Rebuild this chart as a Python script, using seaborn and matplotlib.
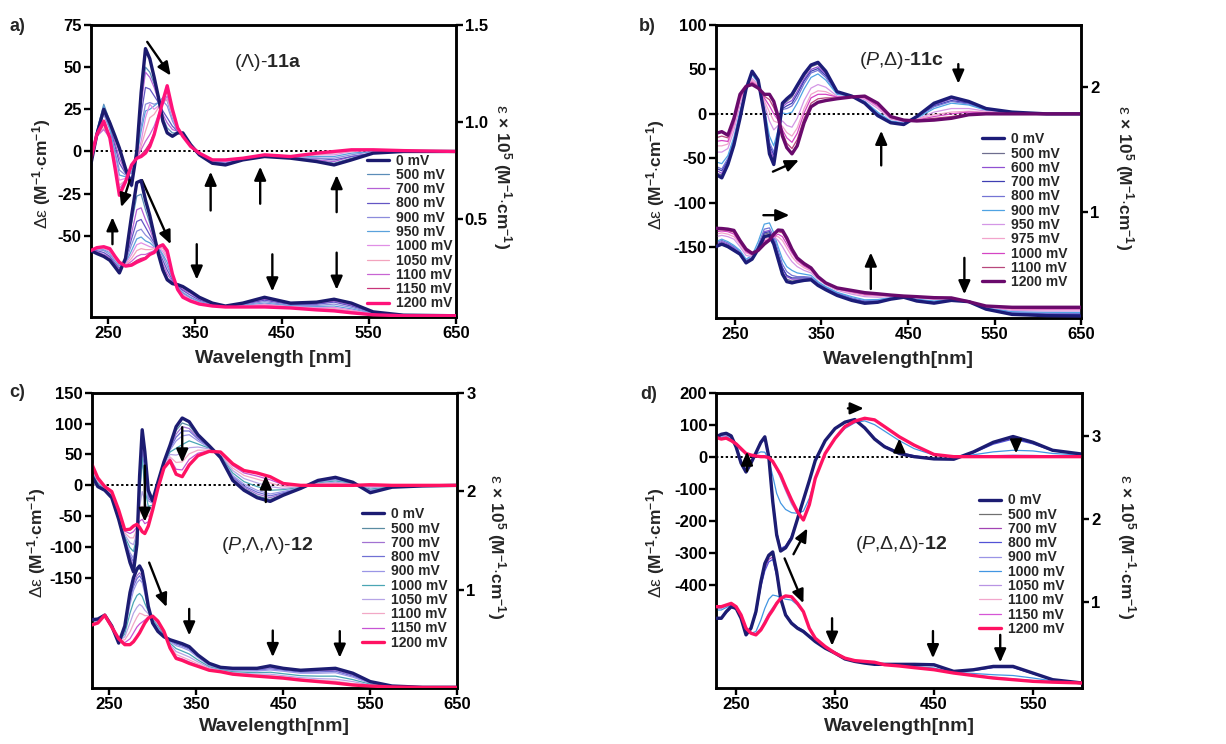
import matplotlib
matplotlib.use("Agg")
import matplotlib.pyplot as plt
import seaborn as sns

sns.set_style("ticks")
plt.rcParams["font.family"] = ["Liberation Sans", "DejaVu Sans"]
plt.rcParams["mathtext.fontset"] = "custom"
plt.rcParams["mathtext.rm"] = "Liberation Sans"
plt.rcParams["mathtext.it"] = "Liberation Sans:italic"
plt.rcParams["mathtext.bf"] = "Liberation Sans:bold"
plt.rcParams["axes.linewidth"] = 1.8
plt.rcParams["axes.edgecolor"] = "black"
plt.rcParams["xtick.color"] = "black"
plt.rcParams["ytick.color"] = "black"

# ---------------- panel a : (Lambda)-11a ----------------
WL_A = [230, 237, 245, 252, 258, 263, 270, 277, 283, 288, 293, 298, 303, 308, 313, 318,
        324, 330, 336, 345, 355, 370, 385, 405, 430, 460, 490, 510, 530, 555, 590, 650]
POT_A = ["0 mV", "500 mV", "700 mV", "800 mV", "900 mV", "950 mV", "1000 mV",
         "1050 mV", "1100 mV", "1150 mV", "1200 mV"]
COL_A = ["#1b1a6e", "#5b8db8", "#b561d6", "#6356c4", "#8c8cdc", "#5aa2dc",
         "#e08fe6", "#f3a3bd", "#c865d3", "#c8357a", "#ff127a"]
CD_A = [
    [-8, 10, 25, 17, 9, 2, -10, -20, 0, 35, 61, 55, 44, 32, 18, 11, 9, 11, 11, 4, -2, -7, -8, -5, -3, -4, -6, -8, -5, -1, 0, 0],
    [-8, 12, 28, 18, 8, 0, -12, -21, -1, 30, 50, 47, 40, 31, 20, 14, 11, 11, 11, 4, -2, -7, -7, -5, -3, -4, -5, -7, -4, -1, 0, 0],
    [-7, 11, 24, 15, 5, -4, -12, -18, -2, 28, 47, 44, 38, 30, 22, 17, 13, 12, 10, 4, -2, -6, -7, -5, -3, -4, -5, -6, -3, -1, 0, 0],
    [-7, 11, 23, 14, 3, -7, -13, -16, -3, 22, 38, 37, 33, 29, 24, 20, 15, 12, 10, 4, -2, -6, -7, -5, -3, -4, -4, -5, -3, -1, 0, 0],
    [-6, 11, 22, 13, 0, -11, -14, -13, -3, 15, 28, 29, 28, 29, 30, 27, 18, 12, 10, 4, -2, -6, -6, -5, -3, -4, -4, -4, -2, 0, 0, 0],
    [-6, 12, 27, 14, -2, -14, -15, -12, -3, 12, 24, 25, 27, 29, 32, 30, 20, 13, 10, 4, -2, -6, -6, -4, -3, -3, -3, -3, -1, 0, 0, 0],
    [-6, 10, 16, 10, -4, -17, -16, -10, -4, 6, 20, 28, 25, 27, 30, 31, 21, 13, 9, 3, -1, -5, -6, -4, -2, -3, -2, -2, 0, 1, 0, 0],
    [-5, 9, 14, 9, -6, -20, -17, -9, -4, 3, 12, 20, 22, 26, 29, 31, 22, 13, 9, 3, -1, -5, -5, -4, -2, -3, -2, -1, 0, 1, 0, 0],
    [-5, 9, 13, 8, -7, -22, -17, -9, -4, 1, 6, 10, 15, 22, 28, 33, 23, 14, 9, 3, -1, -5, -5, -4, -2, -3, -1, 0, 1, 1, 0, 0],
    [-5, 9, 16, 8, -9, -24, -18, -8, -4, -2, 1, 5, 11, 21, 29, 36, 24, 14, 9, 3, -1, -5, -5, -4, -2, -3, -1, 0, 1, 1, 0, 0],
    [-5, 10, 18, 8, -10, -26, -18, -8, -4, -3, -1, 3, 10, 20, 30, 39, 25, 14, 9, 3, -1, -5, -5, -4, -2, -3, -1, 0, 1, 1, 0.5, 0],
]
UV_A = [
    [0.34, 0.325, 0.31, 0.29, 0.255, 0.225, 0.30, 0.52, 0.69, 0.70, 0.60, 0.52, 0.42, 0.32, 0.24, 0.19, 0.17, 0.165, 0.155, 0.13, 0.10, 0.07, 0.055, 0.07, 0.10, 0.07, 0.075, 0.09, 0.07, 0.025, 0.008, 0.005],
    [0.34, 0.33, 0.315, 0.295, 0.26, 0.235, 0.30, 0.48, 0.62, 0.63, 0.55, 0.48, 0.40, 0.32, 0.25, 0.20, 0.17, 0.16, 0.15, 0.125, 0.095, 0.068, 0.055, 0.068, 0.095, 0.068, 0.072, 0.085, 0.065, 0.024, 0.008, 0.005],
    [0.34, 0.335, 0.32, 0.305, 0.27, 0.24, 0.29, 0.43, 0.55, 0.56, 0.50, 0.45, 0.39, 0.33, 0.27, 0.22, 0.18, 0.16, 0.14, 0.12, 0.09, 0.065, 0.055, 0.065, 0.09, 0.065, 0.068, 0.08, 0.06, 0.022, 0.008, 0.005],
    [0.34, 0.34, 0.33, 0.31, 0.275, 0.25, 0.285, 0.40, 0.49, 0.50, 0.46, 0.42, 0.38, 0.34, 0.29, 0.24, 0.19, 0.155, 0.135, 0.11, 0.085, 0.063, 0.053, 0.062, 0.085, 0.062, 0.064, 0.075, 0.055, 0.02, 0.007, 0.005],
    [0.34, 0.345, 0.34, 0.32, 0.285, 0.26, 0.28, 0.37, 0.44, 0.45, 0.42, 0.40, 0.37, 0.35, 0.31, 0.26, 0.20, 0.15, 0.125, 0.10, 0.08, 0.06, 0.052, 0.06, 0.078, 0.058, 0.058, 0.065, 0.048, 0.018, 0.007, 0.005],
    [0.34, 0.35, 0.345, 0.33, 0.29, 0.265, 0.275, 0.34, 0.40, 0.41, 0.39, 0.38, 0.36, 0.355, 0.32, 0.28, 0.205, 0.145, 0.12, 0.095, 0.075, 0.058, 0.051, 0.057, 0.07, 0.055, 0.052, 0.055, 0.04, 0.016, 0.006, 0.005],
    [0.34, 0.35, 0.35, 0.335, 0.295, 0.27, 0.27, 0.32, 0.37, 0.38, 0.37, 0.36, 0.355, 0.36, 0.335, 0.30, 0.21, 0.14, 0.115, 0.09, 0.072, 0.057, 0.05, 0.055, 0.065, 0.052, 0.047, 0.048, 0.035, 0.014, 0.006, 0.005],
    [0.34, 0.352, 0.355, 0.34, 0.30, 0.272, 0.265, 0.30, 0.34, 0.35, 0.345, 0.345, 0.35, 0.36, 0.35, 0.31, 0.215, 0.14, 0.11, 0.087, 0.07, 0.056, 0.05, 0.053, 0.06, 0.05, 0.043, 0.042, 0.03, 0.012, 0.005, 0.005],
    [0.34, 0.353, 0.357, 0.345, 0.305, 0.275, 0.262, 0.285, 0.31, 0.32, 0.32, 0.33, 0.34, 0.36, 0.36, 0.325, 0.218, 0.14, 0.105, 0.084, 0.067, 0.056, 0.05, 0.051, 0.055, 0.048, 0.039, 0.036, 0.025, 0.011, 0.005, 0.005],
    [0.34, 0.354, 0.359, 0.348, 0.308, 0.278, 0.26, 0.272, 0.29, 0.30, 0.305, 0.32, 0.335, 0.36, 0.365, 0.335, 0.22, 0.14, 0.102, 0.082, 0.066, 0.055, 0.05, 0.05, 0.052, 0.046, 0.037, 0.032, 0.022, 0.01, 0.005, 0.005],
    [0.34, 0.355, 0.36, 0.35, 0.31, 0.28, 0.26, 0.265, 0.28, 0.29, 0.30, 0.32, 0.33, 0.36, 0.37, 0.34, 0.22, 0.14, 0.10, 0.08, 0.065, 0.055, 0.05, 0.05, 0.05, 0.045, 0.035, 0.03, 0.02, 0.01, 0.005, 0.005],
]
ARROWS_A = [(295, 65, 322, 45), (275, -17, 265, -33), (255, -55, 255, -39), (289, -17, 322, -55),
            (352, -55, 352, -76), (368, -35, 368, -12), (425, -31, 425, -9), (439, -61, 439, -83),
            (513, -36, 513, -14), (513, -60, 513, -82)]

# ---------------- panel b : (P,Delta)-11c ----------------
WL_B = [228, 235, 242, 249, 256, 263, 270, 277, 284, 290, 295, 300, 305, 310, 316, 322, 330,
        338, 346, 355, 368, 385, 400, 415, 430, 445, 460, 480, 500, 520, 540, 570, 610, 650]
POT_B = ["0 mV", "500 mV", "600 mV", "700 mV", "800 mV", "900 mV", "950 mV", "975 mV",
         "1000 mV", "1100 mV", "1200 mV"]
COL_B = ["#1c1c78", "#6e6e8e", "#9050d2", "#3e3eb2", "#7474d4", "#4fa3e3",
         "#d497e6", "#f2a4cc", "#d545c4", "#b8487c", "#6a0a6c"]
CD_B = [
    [-68, -72, -57, -35, -5, 28, 48, 38, 0, -45, -57, -25, 12, 17, 22, 32, 45, 55, 58, 48, 25, 20, 12, -2, -10, -12, -3, 12, 19, 14, 6, 2, 0, 0],
    [-66, -69, -55, -33, -4, 28, 47, 38, 1, -42, -53, -24, 10, 14, 19, 29, 42, 53, 56, 46, 25, 20, 12, -1, -10, -12, -3, 11, 18, 13, 6, 2, 0, 0],
    [-63, -67, -54, -32, -2, 28, 46, 37, 2, -38, -50, -23, 8, 12, 15, 25, 39, 50, 53, 45, 24, 20, 13, -1, -9, -11, -3, 10, 17, 12, 5, 2, 0, 0],
    [-61, -64, -52, -30, -1, 28, 46, 37, 3, -35, -46, -22, 6, 9, 12, 22, 37, 48, 51, 43, 24, 20, 13, 0, -9, -11, -4, 9, 15, 12, 5, 2, 0, 0],
    [-59, -62, -50, -29, 0, 29, 45, 36, 4, -32, -43, -21, 5, 6, 9, 18, 34, 46, 49, 41, 23, 20, 14, 1, -9, -11, -4, 8, 14, 11, 5, 2, 0, 0],
    [-54, -56, -47, -26, 3, 29, 44, 35, 7, -25, -36, -18, 1, 0, 2, 12, 28, 41, 45, 38, 22, 20, 14, 2, -8, -10, -5, 6, 12, 10, 4, 1, 0, 0],
    [-43, -43, -39, -19, 10, 30, 40, 33, 12, -8, -18, -13, -8, -13, -15, -5, 15, 29, 33, 30, 20, 19, 16, 6, -6, -9, -6, 2, 6, 6, 3, 1, 0, 0],
    [-36, -36, -34, -14, 14, 30, 38, 32, 15, 2, -8, -10, -14, -21, -25, -16, 6, 22, 26, 25, 19, 19, 18, 8, -5, -8, -6, -1, 2, 3, 2, 1, 0, 0],
    [-31, -30, -31, -11, 17, 31, 36, 31, 18, 9, 0, -7, -18, -27, -32, -22, 1, 18, 22, 22, 19, 19, 18, 9, -4, -8, -7, -3, 0, 2, 1, 0, 0, 0],
    [-27, -25, -27, -8, 19, 31, 35, 30, 20, 16, 7, -5, -21, -33, -39, -29, -5, 12, 17, 18, 18, 19, 19, 11, -3, -7, -7, -5, -3, 0, 1, 0, 0, 0],
    [-22, -20, -24, -5, 22, 31, 33, 29, 22, 22, 14, -3, -25, -38, -45, -36, -10, 8, 13, 15, 17, 19, 20, 12, -3, -7, -8, -7, -5, -1, 0, 0, 0, 0],
]
UV_B = [
    [0.72, 0.74, 0.72, 0.69, 0.66, 0.59, 0.62, 0.70, 0.80, 0.81, 0.74, 0.62, 0.50, 0.44, 0.43, 0.44, 0.45, 0.455, 0.41, 0.375, 0.33, 0.29, 0.267, 0.275, 0.30, 0.315, 0.285, 0.268, 0.29, 0.28, 0.22, 0.178, 0.168, 0.165],
    [0.73, 0.75, 0.73, 0.70, 0.665, 0.595, 0.625, 0.71, 0.82, 0.83, 0.76, 0.64, 0.52, 0.46, 0.445, 0.45, 0.455, 0.46, 0.415, 0.38, 0.335, 0.295, 0.272, 0.278, 0.30, 0.315, 0.287, 0.27, 0.29, 0.28, 0.222, 0.182, 0.172, 0.17],
    [0.74, 0.76, 0.74, 0.71, 0.67, 0.60, 0.63, 0.72, 0.84, 0.85, 0.78, 0.66, 0.55, 0.48, 0.46, 0.46, 0.46, 0.465, 0.42, 0.385, 0.34, 0.30, 0.277, 0.282, 0.303, 0.316, 0.29, 0.273, 0.292, 0.28, 0.225, 0.186, 0.178, 0.175],
    [0.73, 0.745, 0.73, 0.70, 0.665, 0.60, 0.625, 0.715, 0.83, 0.84, 0.77, 0.66, 0.55, 0.49, 0.47, 0.47, 0.47, 0.47, 0.425, 0.39, 0.345, 0.305, 0.28, 0.285, 0.305, 0.318, 0.292, 0.276, 0.294, 0.28, 0.227, 0.19, 0.182, 0.18],
    [0.75, 0.77, 0.75, 0.72, 0.68, 0.61, 0.635, 0.73, 0.86, 0.87, 0.80, 0.69, 0.58, 0.52, 0.49, 0.48, 0.48, 0.475, 0.43, 0.395, 0.35, 0.31, 0.287, 0.29, 0.308, 0.32, 0.295, 0.28, 0.297, 0.28, 0.23, 0.195, 0.188, 0.186],
    [0.76, 0.78, 0.76, 0.73, 0.69, 0.62, 0.65, 0.76, 0.90, 0.91, 0.83, 0.72, 0.62, 0.56, 0.53, 0.51, 0.50, 0.49, 0.44, 0.40, 0.355, 0.32, 0.295, 0.297, 0.312, 0.322, 0.30, 0.285, 0.30, 0.28, 0.233, 0.20, 0.195, 0.193],
    [0.80, 0.81, 0.80, 0.78, 0.72, 0.65, 0.64, 0.71, 0.80, 0.81, 0.80, 0.77, 0.72, 0.66, 0.60, 0.56, 0.53, 0.51, 0.46, 0.415, 0.37, 0.34, 0.32, 0.315, 0.32, 0.322, 0.31, 0.298, 0.305, 0.28, 0.238, 0.21, 0.205, 0.205],
    [0.82, 0.83, 0.82, 0.80, 0.74, 0.67, 0.65, 0.70, 0.78, 0.79, 0.80, 0.80, 0.77, 0.71, 0.64, 0.59, 0.55, 0.525, 0.465, 0.42, 0.378, 0.35, 0.33, 0.325, 0.325, 0.323, 0.313, 0.303, 0.307, 0.28, 0.24, 0.218, 0.215, 0.215],
    [0.84, 0.845, 0.84, 0.82, 0.75, 0.68, 0.655, 0.695, 0.765, 0.78, 0.80, 0.82, 0.80, 0.74, 0.67, 0.61, 0.565, 0.535, 0.47, 0.425, 0.383, 0.358, 0.338, 0.332, 0.328, 0.324, 0.316, 0.307, 0.308, 0.28, 0.242, 0.225, 0.222, 0.222],
    [0.855, 0.855, 0.85, 0.835, 0.76, 0.69, 0.66, 0.69, 0.75, 0.775, 0.81, 0.84, 0.83, 0.77, 0.69, 0.62, 0.575, 0.545, 0.475, 0.428, 0.387, 0.365, 0.345, 0.338, 0.33, 0.325, 0.318, 0.31, 0.309, 0.28, 0.244, 0.23, 0.228, 0.228],
    [0.867, 0.865, 0.86, 0.85, 0.77, 0.70, 0.667, 0.69, 0.74, 0.773, 0.82, 0.853, 0.85, 0.79, 0.70, 0.63, 0.585, 0.55, 0.48, 0.43, 0.39, 0.37, 0.352, 0.343, 0.333, 0.325, 0.32, 0.312, 0.31, 0.28, 0.245, 0.235, 0.235, 0.235],
]
ARROWS_B = [(294, -65, 324, -52), (283, -114, 313, -114), (508, 56, 508, 34),
            (419, -58, 419, -19), (407, -197, 407, -156), (515, -162, 515, -203)]

# ---------------- panel c : (P,Lambda,Lambda)-12 ----------------
WL_C = [230, 237, 245, 253, 261, 268, 274, 278, 282, 285, 288, 291, 295, 300, 306, 313, 320, 327,
        334, 342, 352, 365, 378, 392, 405, 420, 435, 450, 470, 490, 510, 530, 550, 575, 610, 650]
POT_C = ["0 mV", "500 mV", "700 mV", "800 mV", "900 mV", "1000 mV", "1050 mV",
         "1100 mV", "1150 mV", "1200 mV"]
COL_C = ["#1c1c72", "#5a8ca2", "#a272d2", "#7070d4", "#9a96e6", "#4aa6b4",
         "#b6a4e6", "#f2a8c6", "#c754d4", "#ff1262"]
CD_C = [
    [16, -2, -8, -20, -55, -92, -125, -140, -95, 15, 90, 55, -8, -25, 5, 38, 65, 95, 109, 103, 82, 64, 45, 8, -8, -20, -26, -16, -5, 8, 13, 5, -12, -3, -1, 0],
    [18, -1, -8, -19, -54, -90, -121, -134, -92, 8, 77, 44, -12, -26, 4, 37, 63, 89, 101, 97, 79, 63, 46, 10, -5, -17, -23, -14, -5, 7, 12, 5, -11, -3, -1, 0],
    [19, 0, -7, -18, -53, -89, -117, -129, -90, 3, 65, 35, -17, -27, 4, 36, 61, 83, 95, 92, 77, 63, 46, 12, -3, -14, -20, -13, -4, 7, 11, 4, -10, -3, -1, 0],
    [20, 1, -7, -18, -52, -88, -113, -124, -88, -3, 54, 26, -21, -28, 3, 36, 59, 78, 88, 88, 75, 62, 47, 14, -1, -11, -17, -12, -4, 6, 10, 4, -9, -2, -1, 0],
    [22, 2, -6, -17, -50, -86, -109, -118, -85, -10, 40, 15, -25, -29, 2, 35, 57, 72, 80, 82, 72, 61, 48, 16, 2, -8, -14, -10, -4, 6, 9, 3, -8, -2, -1, 0],
    [25, 4, -5, -16, -48, -83, -101, -107, -81, -22, 45, -5, -34, -32, 0, 33, 54, 60, 66, 72, 67, 60, 49, 20, 6, -2, -8, -7, -3, 4, 7, 3, -6, -2, -1, 0],
    [27, 6, -4, -14, -46, -80, -93, -96, -76, -35, -10, -25, -43, -34, -1, 32, 50, 49, 52, 61, 62, 59, 50, 24, 11, 4, -2, -5, -2, 3, 5, 2, -4, -1, 0, 0],
    [30, 8, -3, -13, -44, -77, -85, -85, -71, -47, -34, -45, -51, -36, -2, 30, 46, 37, 38, 51, 57, 57, 52, 28, 16, 10, 4, -2, -1, 2, 3, 1, -2, -1, 0, 0],
    [33, 10, -2, -11, -42, -74, -78, -75, -67, -58, -55, -62, -59, -38, -4, 29, 43, 26, 25, 42, 52, 56, 53, 32, 20, 15, 9, 1, 0, 1, 1, 0, -1, 0, 0, 0],
    [35, 12, -2, -10, -40, -72, -71, -66, -63, -68, -75, -78, -66, -40, -5, 28, 40, 18, 14, 33, 48, 55, 54, 35, 24, 20, 14, 3, 0, 0, 0, 0, 1, 0, 0, 0],
]
UV_C = [
    [0.694, 0.70, 0.74, 0.63, 0.456, 0.63, 0.97, 1.12, 1.21, 1.24, 1.19, 1.05, 0.83, 0.66, 0.575, 0.52, 0.49, 0.47, 0.45, 0.42, 0.335, 0.25, 0.21, 0.20, 0.20, 0.20, 0.225, 0.20, 0.18, 0.19, 0.20, 0.15, 0.065, 0.02, 0.007, 0.007],
    [0.69, 0.70, 0.74, 0.63, 0.46, 0.62, 0.95, 1.10, 1.19, 1.22, 1.17, 1.04, 0.83, 0.67, 0.58, 0.52, 0.485, 0.465, 0.445, 0.415, 0.33, 0.245, 0.205, 0.195, 0.195, 0.195, 0.215, 0.195, 0.175, 0.18, 0.19, 0.14, 0.062, 0.02, 0.007, 0.007],
    [0.685, 0.695, 0.74, 0.63, 0.46, 0.61, 0.92, 1.06, 1.14, 1.17, 1.13, 1.01, 0.82, 0.675, 0.59, 0.52, 0.48, 0.455, 0.435, 0.405, 0.325, 0.24, 0.20, 0.19, 0.19, 0.188, 0.205, 0.188, 0.168, 0.172, 0.18, 0.13, 0.058, 0.018, 0.007, 0.007],
    [0.68, 0.69, 0.74, 0.63, 0.462, 0.60, 0.89, 1.03, 1.11, 1.14, 1.10, 0.99, 0.815, 0.68, 0.60, 0.53, 0.475, 0.445, 0.425, 0.395, 0.32, 0.235, 0.197, 0.185, 0.183, 0.18, 0.195, 0.18, 0.16, 0.163, 0.17, 0.12, 0.053, 0.017, 0.007, 0.007],
    [0.675, 0.685, 0.74, 0.628, 0.465, 0.58, 0.85, 0.99, 1.07, 1.10, 1.07, 0.96, 0.80, 0.685, 0.61, 0.535, 0.47, 0.43, 0.41, 0.38, 0.31, 0.228, 0.192, 0.178, 0.175, 0.172, 0.183, 0.17, 0.15, 0.15, 0.155, 0.11, 0.048, 0.015, 0.006, 0.006],
    [0.665, 0.68, 0.74, 0.627, 0.47, 0.55, 0.76, 0.87, 0.94, 0.96, 0.93, 0.86, 0.78, 0.70, 0.63, 0.545, 0.455, 0.40, 0.375, 0.345, 0.285, 0.215, 0.185, 0.165, 0.16, 0.155, 0.16, 0.145, 0.125, 0.12, 0.12, 0.085, 0.038, 0.013, 0.006, 0.006],
    [0.66, 0.675, 0.74, 0.625, 0.475, 0.52, 0.66, 0.76, 0.82, 0.85, 0.83, 0.79, 0.755, 0.71, 0.65, 0.555, 0.44, 0.37, 0.345, 0.315, 0.265, 0.205, 0.18, 0.155, 0.148, 0.14, 0.14, 0.125, 0.105, 0.095, 0.09, 0.065, 0.03, 0.012, 0.005, 0.005],
    [0.655, 0.67, 0.74, 0.624, 0.48, 0.49, 0.57, 0.65, 0.72, 0.76, 0.75, 0.735, 0.735, 0.72, 0.665, 0.565, 0.425, 0.34, 0.315, 0.285, 0.245, 0.195, 0.173, 0.148, 0.14, 0.13, 0.125, 0.112, 0.092, 0.08, 0.07, 0.045, 0.025, 0.011, 0.005, 0.005],
    [0.645, 0.665, 0.74, 0.622, 0.49, 0.46, 0.50, 0.56, 0.62, 0.65, 0.67, 0.69, 0.72, 0.725, 0.675, 0.57, 0.41, 0.315, 0.295, 0.265, 0.23, 0.185, 0.168, 0.143, 0.133, 0.123, 0.115, 0.105, 0.085, 0.07, 0.058, 0.036, 0.022, 0.01, 0.005, 0.005],
    [0.64, 0.66, 0.74, 0.62, 0.50, 0.44, 0.44, 0.47, 0.52, 0.56, 0.61, 0.66, 0.71, 0.73, 0.68, 0.575, 0.405, 0.30, 0.28, 0.25, 0.22, 0.18, 0.165, 0.14, 0.13, 0.12, 0.11, 0.10, 0.08, 0.065, 0.05, 0.03, 0.02, 0.01, 0.005, 0.005],
]
ARROWS_C = [(291, 32, 291, -59), (334, 94, 334, 37), (430, -27, 430, 16), (296, -125, 316, -197),
            (342, -200, 342, -243), (438, -235, 438, -278), (515, -236, 515, -279)]

# ---------------- panel d : (P,Delta,Delta)-12 ----------------
WL_D = [230, 235, 240, 245, 250, 255, 260, 265, 270, 275, 279, 283, 287, 291, 295, 300, 306, 312, 318,
        324, 330, 340, 350, 360, 370, 380, 390, 400, 415, 430, 450, 470, 490, 510, 530, 550, 570, 600]
POT_D = ["0 mV", "500 mV", "700 mV", "800 mV", "900 mV", "1000 mV", "1050 mV",
         "1100 mV", "1150 mV", "1200 mV"]
COL_D = ["#1c1c72", "#707070", "#a244b4", "#5252d6", "#9a94e6", "#4296e2",
         "#b894e4", "#f2a6cc", "#d656d6", "#ff1262"]
CD_D = [
    [62, 70, 73, 65, 30, -20, -48, -20, 12, 45, 62, 0, -140, -245, -295, -285, -255, -195, -135, -75, -12, 50, 88, 108, 116, 90, 55, 31, 10, 0, -7, -8, 15, 45, 63, 45, 20, 8],
    [62, 69, 72, 64, 30, -18, -46, -19, 12, 44, 60, -1, -138, -242, -292, -283, -253, -194, -134, -75, -12, 50, 88, 107, 115, 90, 56, 32, 11, 1, -7, -7, 14, 43, 60, 43, 19, 8],
    [61, 68, 71, 63, 31, -16, -44, -18, 12, 43, 58, -2, -135, -238, -290, -281, -251, -193, -134, -74, -12, 50, 87, 107, 115, 91, 57, 33, 12, 2, -7, -7, 13, 41, 58, 42, 19, 8],
    [61, 67, 70, 62, 32, -14, -42, -17, 12, 42, 56, -3, -132, -234, -287, -279, -249, -192, -133, -74, -12, 50, 87, 106, 114, 91, 58, 34, 13, 3, -6, -6, 12, 39, 55, 40, 18, 8],
    [66, 62, 66, 58, 42, 25, 12, 6, 3, 2, 1, -3, -18, -40, -68, -106, -148, -178, -195, -152, -65, 8, 55, 92, 110, 119, 114, 93, 62, 36, 7, 0, 1, 3, 5, 4, 2, 1],
    [70, 58, 62, 55, 38, 20, 8, 5, 8, 15, 14, -10, -60, -115, -145, -165, -175, -177, -170, -130, -70, 10, 55, 88, 106, 112, 100, 80, 50, 25, 5, 0, 6, 15, 20, 18, 10, 5],
    [60, 56, 59, 52, 41, 26, 11, 5, 2, 1, 0, -3, -16, -37, -58, -96, -137, -174, -198, -152, -67, 9, 56, 93, 110, 119, 115, 94, 62, 36, 7, 0, 0, 1, 2, 1, 0, 0],
    [58, 56, 60, 51, 40, 25, 10, 5, 2, 0, 0, -3, -15, -36, -58, -95, -136, -173, -199, -151, -68, 10, 57, 94, 111, 120, 115, 94, 62, 36, 7, 0, 0, 0, 1, 0, 0, 0],
    [62, 55, 57, 50, 40, 25, 10, 5, 2, 0, 0, -3, -15, -36, -57, -94, -135, -172, -199, -150, -68, 10, 57, 94, 111, 120, 115, 94, 62, 36, 7, 0, 0, 0, 0, 0, 0, 0],
    [60, 55, 58, 50, 40, 25, 10, 5, 2, 0, 0, -3, -15, -36, -57, -94, -135, -172, -198, -150, -68, 10, 57, 94, 111, 120, 115, 94, 62, 36, 7, 0, 0, 0, 0, 0, 0, 0],
]
UV_D = [
    [0.80, 0.80, 0.88, 0.94, 0.92, 0.80, 0.60, 0.68, 0.88, 1.24, 1.46, 1.56, 1.60, 1.36, 1.04, 0.84, 0.74, 0.68, 0.64, 0.58, 0.52, 0.44, 0.38, 0.31, 0.28, 0.26, 0.245, 0.245, 0.245, 0.245, 0.24, 0.16, 0.18, 0.22, 0.22, 0.14, 0.06, 0.02],
    [0.80, 0.80, 0.875, 0.935, 0.915, 0.80, 0.61, 0.685, 0.87, 1.22, 1.43, 1.54, 1.57, 1.35, 1.04, 0.845, 0.745, 0.685, 0.645, 0.585, 0.52, 0.44, 0.38, 0.31, 0.28, 0.26, 0.245, 0.245, 0.245, 0.245, 0.24, 0.16, 0.18, 0.215, 0.215, 0.138, 0.06, 0.02],
    [0.80, 0.805, 0.87, 0.93, 0.91, 0.80, 0.62, 0.69, 0.86, 1.20, 1.40, 1.51, 1.54, 1.33, 1.04, 0.85, 0.75, 0.69, 0.65, 0.59, 0.52, 0.44, 0.38, 0.31, 0.28, 0.26, 0.245, 0.243, 0.242, 0.24, 0.235, 0.158, 0.175, 0.21, 0.21, 0.135, 0.058, 0.02],
    [0.81, 0.81, 0.87, 0.93, 0.91, 0.80, 0.62, 0.69, 0.85, 1.18, 1.37, 1.48, 1.51, 1.31, 1.04, 0.855, 0.755, 0.695, 0.655, 0.59, 0.52, 0.44, 0.38, 0.31, 0.28, 0.26, 0.245, 0.242, 0.24, 0.236, 0.23, 0.155, 0.17, 0.205, 0.205, 0.132, 0.057, 0.02],
    [0.92, 0.92, 0.95, 0.97, 0.935, 0.835, 0.675, 0.625, 0.61, 0.68, 0.77, 0.86, 0.93, 0.99, 1.04, 1.06, 1.05, 0.98, 0.88, 0.68, 0.56, 0.46, 0.38, 0.32, 0.29, 0.28, 0.27, 0.24, 0.225, 0.208, 0.183, 0.142, 0.115, 0.09, 0.07, 0.05, 0.035, 0.02],
    [0.90, 0.90, 0.93, 0.96, 0.93, 0.83, 0.67, 0.62, 0.64, 0.78, 0.92, 1.03, 1.08, 1.07, 1.05, 1.03, 1.02, 0.96, 0.87, 0.68, 0.55, 0.45, 0.38, 0.32, 0.29, 0.275, 0.265, 0.245, 0.232, 0.22, 0.20, 0.15, 0.135, 0.12, 0.11, 0.08, 0.045, 0.02],
    [0.93, 0.93, 0.955, 0.975, 0.94, 0.84, 0.68, 0.62, 0.605, 0.665, 0.75, 0.84, 0.91, 0.98, 1.04, 1.065, 1.055, 0.98, 0.88, 0.68, 0.56, 0.46, 0.38, 0.32, 0.29, 0.28, 0.27, 0.24, 0.225, 0.206, 0.181, 0.141, 0.112, 0.085, 0.065, 0.045, 0.032, 0.02],
    [0.935, 0.935, 0.957, 0.977, 0.94, 0.84, 0.68, 0.62, 0.602, 0.662, 0.745, 0.835, 0.905, 0.98, 1.04, 1.068, 1.058, 0.98, 0.88, 0.68, 0.56, 0.46, 0.38, 0.32, 0.29, 0.28, 0.27, 0.24, 0.225, 0.205, 0.18, 0.14, 0.111, 0.082, 0.062, 0.042, 0.031, 0.02],
    [0.94, 0.94, 0.96, 0.98, 0.94, 0.84, 0.68, 0.62, 0.60, 0.66, 0.742, 0.832, 0.902, 0.98, 1.04, 1.07, 1.06, 0.98, 0.88, 0.68, 0.56, 0.46, 0.38, 0.32, 0.29, 0.28, 0.27, 0.24, 0.225, 0.205, 0.18, 0.14, 0.11, 0.081, 0.061, 0.041, 0.03, 0.02],
    [0.94, 0.94, 0.96, 0.98, 0.94, 0.84, 0.68, 0.62, 0.60, 0.66, 0.74, 0.83, 0.90, 0.98, 1.04, 1.07, 1.06, 0.98, 0.88, 0.68, 0.56, 0.46, 0.38, 0.32, 0.29, 0.28, 0.27, 0.24, 0.225, 0.205, 0.18, 0.14, 0.11, 0.08, 0.06, 0.04, 0.03, 0.02],
]
ARROWS_D = [(261, -45, 261, 16), (363, 151, 379, 151), (415, 18, 415, 57), (533, 49, 533, 10),
            (308, -305, 322, -224), (299, -318, 318, -458), (347, -505, 347, -591),
            (449, -545, 449, -630), (517, -557, 517, -643)]

# ---------------- texts ----------------
YLAB = r"$\mathrm{\Delta\varepsilon}$ $\mathbf{(M^{-1}{\cdot}cm^{-1})}$"
Y2LAB = r"$\mathrm{\varepsilon}$ $\mathbf{\times\ 10^{5}\ (M^{-1}{\cdot}cm^{-1})}$"
TITLE_A = r"(Λ)-$\mathbf{11a}$"
TITLE_B = r"($\mathit{P}$,Δ)-$\mathbf{11c}$"
TITLE_C = r"($\mathit{P}$,Λ,Λ)-$\mathbf{12}$"
TITLE_D = r"($\mathit{P}$,Δ,Δ)-$\mathbf{12}$"

fig = plt.figure(figsize=(12.26, 7.44), dpi=100)


def panel(rect, wl, pots, cd, uv, colors, xlim, xticks, ylim, yticks, ylim2, yticks2, y2lbl,
          xlabel, title, title_xy, arrows, leg_xy, letter, letter_xy, ylab_x, ylab2_x, xlab_y):
    ax = fig.add_axes(rect)
    ax2 = ax.twinx()
    n = len(pots)
    ax.axhline(0, color="black", lw=1.4, ls=(0, (1.2, 1.3)), zorder=1)
    for i in range(n):
        thick = (i == 0) or (i == n - 1)
        lw = 2.4 if thick else 0.9
        z = 4 if thick else 2
        sns.lineplot(x=wl, y=cd[i], ax=ax, color=colors[i], linewidth=lw, label=pots[i],
                     estimator=None, sort=False, zorder=z)
        sns.lineplot(x=wl, y=uv[i], ax=ax2, color=colors[i], linewidth=lw,
                     estimator=None, sort=False, zorder=z, legend=False)
    if ax.get_legend() is not None:
        ax.get_legend().remove()
    ax.set_xlim(*xlim)
    ax.set_ylim(*ylim)
    ax2.set_ylim(*ylim2)
    ax.set_xticks(xticks)
    ax.set_xticklabels([str(t) for t in xticks], fontweight="bold", fontsize=12)
    ax.set_yticks(yticks)
    ax.set_yticklabels([str(t) for t in yticks], fontweight="bold", fontsize=12)
    ax2.set_yticks(yticks2)
    ax2.set_yticklabels(y2lbl, fontweight="bold", fontsize=12)
    for a in (ax, ax2):
        a.tick_params(direction="out", length=5, width=1.7, pad=1.5)
        for s in a.spines.values():
            s.set_linewidth(1.8)
            s.set_visible(True)
    ax.set_xlabel(xlabel, fontsize=14, fontweight="bold", va="center")
    ax.xaxis.set_label_coords(0.5, xlab_y)
    ax.set_ylabel(YLAB, fontsize=12.5, rotation=90, va="center", ha="center",
                  rotation_mode="anchor")
    ax.yaxis.set_label_coords(ylab_x, 0.49)
    ax2.set_ylabel(Y2LAB, fontsize=12.5, rotation=270, va="center", ha="center",
                   rotation_mode="anchor")
    ax2.yaxis.set_label_coords(ylab2_x, 0.48)
    ax.text(title_xy[0], title_xy[1], title, ha="center", va="center", fontsize=14)
    for (x0, y0, x1, y1) in arrows:
        ax2.annotate("", xy=(x1, y1), xytext=(x0, y0), xycoords=ax.transData,
                     textcoords=ax.transData,
                     arrowprops=dict(arrowstyle="-|>,head_length=0.5,head_width=0.22",
                                     color="black", lw=1.7, shrinkA=0, shrinkB=0,
                                     mutation_scale=16))
    h, l = ax.get_legend_handles_labels()
    ax2.legend(h, l, loc="lower right", bbox_to_anchor=leg_xy, frameon=False,
               prop={"weight": "bold", "size": 10}, handlelength=1.6, handletextpad=0.5,
               labelspacing=0.02, borderaxespad=0, borderpad=0.2)
    fig.text(letter_xy[0], letter_xy[1], letter, fontsize=13, fontweight="bold",
             ha="center", va="center")


panel([0.0740, 0.5743, 0.2977, 0.3921], WL_A, POT_A, CD_A, UV_A, COL_A, (230, 650),
      [250, 350, 450, 550, 650], (-98, 75), [-50, -25, 0, 25, 50, 75], (0, 1.5),
      [0.5, 1.0, 1.5], ["0.5", "1.0", "1.5"], "Wavelength [nm]", TITLE_A, (433, 53),
      ARROWS_A, (1.0, 0.012), "a)", (0.014, 0.965), -0.135, 1.128, -0.142)
panel([0.5838, 0.5722, 0.2982, 0.3942], WL_B, POT_B, CD_B, UV_B, COL_B, (228, 650),
      [250, 350, 450, 550, 650], (-230, 100), [-150, -100, -50, 0, 50, 100], (0.147, 2.493),
      [1, 2], ["1", "2"], "Wavelength[nm]", TITLE_B, (442, 60),
      ARROWS_B, (0.97, 0.09), "b)", (0.528, 0.965), -0.165, 1.118, -0.142)
panel([0.0748, 0.0753, 0.2982, 0.3969], WL_C, POT_C, CD_C, UV_C, COL_C, (230, 650),
      [250, 350, 450, 550, 650], (-328, 150), [-150, -100, -50, 0, 50, 100, 150], (0, 3),
      [1, 2, 3], ["1", "2", "3"], "Wavelength[nm]", TITLE_C, (431, -97),
      ARROWS_C, (0.98, 0.12), "c)", (0.014, 0.473), -0.15, 1.108, -0.132)
panel([0.5843, 0.0753, 0.2985, 0.3969], WL_D, POT_D, CD_D, UV_D, COL_D, (230, 600),
      [250, 350, 450, 550], (-723, 200), [-400, -300, -200, -100, 0, 100, 200], (-0.04, 3.52),
      [1, 2, 3], ["1", "2", "3"], "Wavelength[nm]", TITLE_D, (417, -276),
      ARROWS_D, (0.96, 0.167), "d)", (0.529, 0.470), -0.165, 1.12, -0.132)

fig.savefig("out.png", dpi=100)
